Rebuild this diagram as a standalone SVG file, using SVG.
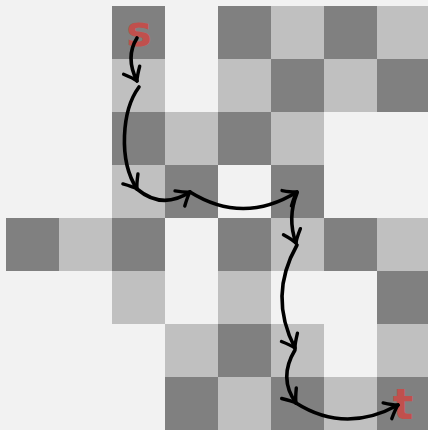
<svg xmlns="http://www.w3.org/2000/svg" width="428" height="430" viewBox="0 0 428 430">
<style>
.d{fill:#808080}
.l{fill:#c0c0c0}
.lbl{font-family:"DejaVu Sans","Liberation Sans",sans-serif;font-weight:bold;font-size:43px;fill:#c0504d;text-anchor:middle}
.e{fill:none;stroke:#000;stroke-width:3.6;stroke-linecap:round;marker-end:url(#ah)}
</style>
<defs>
<marker id="ah" markerUnits="userSpaceOnUse" markerWidth="30" markerHeight="30" refX="0" refY="0" orient="auto" overflow="visible" viewBox="-15 -15 30 30">
<path d="M-12,-9 Q-4,-2 0,0 Q-4,2 -12,9" fill="none" stroke="#000" stroke-width="3.4" stroke-linecap="round" stroke-linejoin="round"/>
</marker>
</defs>
<rect x="0" y="0" width="428" height="430" fill="#f2f2f2"/>
<g id="grid">
<rect class="d" x="112" y="6" width="53" height="53"/>
<rect class="d" x="218" y="6" width="53" height="53"/>
<rect class="l" x="271" y="6" width="53" height="53"/>
<rect class="d" x="324" y="6" width="53" height="53"/>
<rect class="l" x="377" y="6" width="53" height="53"/>
<rect class="l" x="112" y="59" width="53" height="53"/>
<rect class="l" x="218" y="59" width="53" height="53"/>
<rect class="d" x="271" y="59" width="53" height="53"/>
<rect class="l" x="324" y="59" width="53" height="53"/>
<rect class="d" x="377" y="59" width="53" height="53"/>
<rect class="d" x="112" y="112" width="53" height="53"/>
<rect class="l" x="165" y="112" width="53" height="53"/>
<rect class="d" x="218" y="112" width="53" height="53"/>
<rect class="l" x="271" y="112" width="53" height="53"/>
<rect class="l" x="112" y="165" width="53" height="53"/>
<rect class="d" x="165" y="165" width="53" height="53"/>
<rect class="d" x="271" y="165" width="53" height="53"/>
<rect class="d" x="6" y="218" width="53" height="53"/>
<rect class="l" x="59" y="218" width="53" height="53"/>
<rect class="d" x="112" y="218" width="53" height="53"/>
<rect class="d" x="218" y="218" width="53" height="53"/>
<rect class="l" x="271" y="218" width="53" height="53"/>
<rect class="d" x="324" y="218" width="53" height="53"/>
<rect class="l" x="377" y="218" width="53" height="53"/>
<rect class="l" x="112" y="271" width="53" height="53"/>
<rect class="l" x="218" y="271" width="53" height="53"/>
<rect class="d" x="377" y="271" width="53" height="53"/>
<rect class="l" x="165" y="324" width="53" height="53"/>
<rect class="d" x="218" y="324" width="53" height="53"/>
<rect class="l" x="271" y="324" width="53" height="53"/>
<rect class="l" x="377" y="324" width="53" height="53"/>
<rect class="d" x="165" y="377" width="53" height="53"/>
<rect class="l" x="218" y="377" width="53" height="53"/>
<rect class="d" x="271" y="377" width="53" height="53"/>
<rect class="l" x="324" y="377" width="53" height="53"/>
<rect class="d" x="377" y="377" width="53" height="53"/>
</g>
<g id="node-s"><text class="lbl" x="139" y="46">s</text></g>
<g id="node-t"><text class="lbl" x="403" y="419">t</text></g>
<g id="connectors">
<path class="e" d="M137,38 Q125,57 137,81"/>
<path class="e" d="M139,87 C122,110 118,160 137,189"/>
<path class="e" d="M137,189 Q162,210 190,192"/>
<path class="e" d="M190,192 Q243,225 297,192"/>
<path class="e" d="M297,193 Q287,218 296,243"/>
<path class="e" d="M297,245 Q268,296 295,348"/>
<path class="e" d="M295,350 Q278,378 296,403"/>
<path class="e" d="M296,403 Q345,434 398,405"/>
</g>
</svg>
